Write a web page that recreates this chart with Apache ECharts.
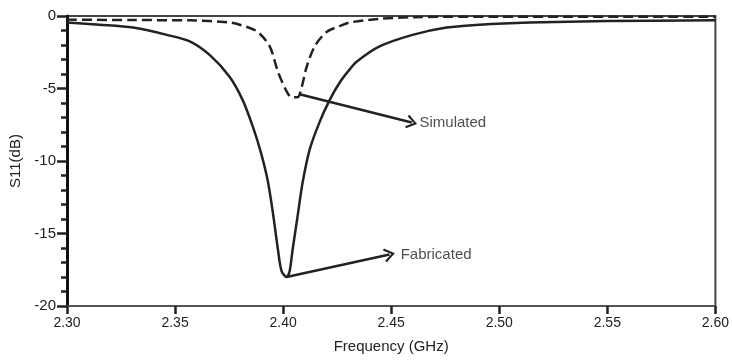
<!DOCTYPE html>
<html>
<head>
<meta charset="utf-8">
<style>
  html, body { margin: 0; padding: 0; background: #fff; }
  #chart { width: 732px; height: 360px; }
</style>
<script src="https://cdn.jsdelivr.net/npm/echarts@6/dist/echarts.min.js"></script>
</head>
<body>
<div id="chart"></div>
<script>
// measured S11 (solid)
const fabFreq = [2.300, 2.315, 2.3305, 2.3462, 2.3568, 2.3661, 2.3753, 2.3813, 2.3859, 2.3897, 2.3928,
  2.3952, 2.3975, 2.3993, 2.4016, 2.4030, 2.4044, 2.4067, 2.4090, 2.4123, 2.4169, 2.4215, 2.4261,
  2.4307, 2.4340, 2.4446, 2.4599, 2.4756, 2.4908, 2.5139, 2.55, 2.60];
const fabS11 = [-0.45, -0.6, -0.8, -1.3, -1.75, -2.7, -4.2, -5.8, -7.6, -9.4, -11.3,
  -13.5, -16.0, -17.6, -18.0, -17.6, -16.1, -13.8, -11.5, -9.2, -7.3, -5.8, -4.6,
  -3.7, -3.15, -2.1, -1.3, -0.8, -0.6, -0.45, -0.35, -0.3];

// simulated S11 (dashed)
const simFreq = [2.300, 2.330, 2.3568, 2.3753, 2.3799, 2.3878, 2.3938, 2.3975, 2.4016, 2.4039,
  2.4067, 2.4086, 2.4109, 2.4146, 2.4201, 2.4261, 2.4307, 2.4446, 2.4599, 2.50, 2.60];
const simS11 = [-0.25, -0.28, -0.3, -0.45, -0.6, -1.05, -2.1, -3.8, -5.2, -5.6,
  -5.6, -4.9, -3.5, -2.1, -1.1, -0.7, -0.45, -0.2, -0.08, -0.05, -0.05];

// annotations: arrow start, arrow end, text anchor
const annoNames = ["Simulated", "Fabricated"];
const arrowFrom = [[2.4076, -5.4], [2.4016, -18.0]];
const arrowTo = [[2.4595, -7.35], [2.4492, -16.45]];
const textAt = [[2.4631, -7.35], [2.4544, -16.5]];

const xTicks = { min: 2.30, max: 2.60, step: 0.05 };
const yTicks = { min: -20, max: 0, step: 5 };

const FONT = 'Arial, "Liberation Sans", sans-serif';
const INK = "#222";
const chevron = "path://M6,0 L12,9 L10.5,10.2 L6,3.2 L1.5,10.2 L0,9 Z";

const zip = (xs, ys) => xs.map((x, i) => [x, ys[i]]);

const chart = echarts.init(document.getElementById("chart"), null, { renderer: "canvas" });

chart.setOption({
  animation: false,
  grid: {
    left: 67, right: 16, top: 16, bottom: 54,
    show: true, borderColor: "#444", borderWidth: 2, backgroundColor: "transparent",
  },
  xAxis: {
    type: "value",
    min: xTicks.min, max: xTicks.max, interval: xTicks.step,
    name: "Frequency (GHz)",
    nameLocation: "middle",
    nameGap: 33,
    nameTextStyle: { color: INK, fontSize: 15, fontFamily: FONT },
    axisLine: { show: true, onZero: false, lineStyle: { color: "#555", width: 2 } },
    axisTick: { show: true, inside: false, length: 8, lineStyle: { color: INK, width: 2.5 } },
    axisLabel: {
      color: INK, fontSize: 14, fontFamily: FONT, margin: 10,
      formatter: (v) => v.toFixed(2),
    },
    splitLine: { show: false },
  },
  yAxis: {
    type: "value",
    min: yTicks.min, max: yTicks.max, interval: yTicks.step,
    name: "S11(dB)",
    nameLocation: "middle",
    nameGap: 40,
    nameTextStyle: { color: INK, fontSize: 15, fontFamily: FONT },
    axisLine: { show: true, onZero: false, lineStyle: { color: "#111", width: 3 } },
    axisTick: { show: true, inside: false, length: 10, lineStyle: { color: INK, width: 2.5 } },
    minorTick: { show: true, splitNumber: 5, length: 6, lineStyle: { color: INK, width: 2.5 } },
    axisLabel: { color: INK, fontSize: 15, fontFamily: FONT, margin: 11 },
    splitLine: { show: false },
    minorSplitLine: { show: false },
  },
  series: [
    {
      name: "Fabricated",
      type: "line",
      data: zip(fabFreq, fabS11),
      showSymbol: false,
      smooth: 0.3,
      lineStyle: { color: INK, width: 2.5 },
      emphasis: { disabled: true },
      z: 3,
    },
    {
      name: "Simulated",
      type: "line",
      data: zip(simFreq, simS11),
      showSymbol: false,
      smooth: 0.3,
      lineStyle: { color: INK, width: 2.5, type: [10, 5] },
      emphasis: { disabled: true },
      z: 3,
      markLine: {
        silent: true,
        animation: false,
        symbol: ["none", chevron],
        symbolSize: [14, 11],
        label: { show: false },
        lineStyle: { color: INK, width: 2.5, type: "solid" },
        emphasis: { disabled: true },
        data: arrowFrom.map((p, i) => [{ coord: p }, { coord: arrowTo[i] }]),
      },
    },
    {
      name: "labels",
      type: "scatter",
      data: textAt.map((p, i) => ({ value: p, name: annoNames[i] })),
      symbolSize: 0,
      silent: true,
      label: {
        show: true,
        position: "right",
        distance: 0,
        formatter: (p) => p.name,
        color: INK,
        fontSize: 15,
        fontFamily: FONT,
      },
    },
  ],
});
</script>
</body>
</html>
